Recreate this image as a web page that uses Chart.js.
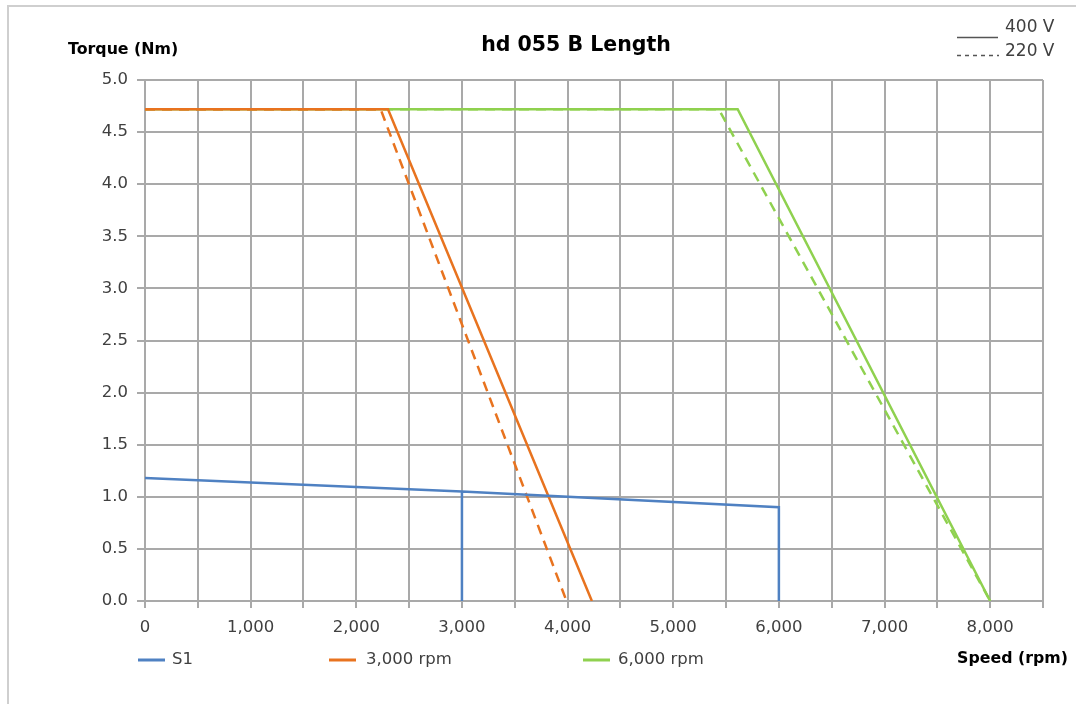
<!DOCTYPE html>
<html>
<head>
<meta charset="utf-8">
<script src="https://cdn.jsdelivr.net/npm/chart.js@4/dist/chart.umd.min.js"></script>
<style>
  html, body { margin: 0; padding: 0; background: #fff; }
  #wrap { width: 1076px; height: 704px; }
</style>
</head>
<body>
<div id="wrap"><canvas id="torqueChart" width="1076" height="704"></canvas></div>
<script>
// speed (rpm) / torque (Nm)
const s1Speed = [0, 3000, 6000, 6000, null, 3000, 3000];
const s1Torque = [1.18, 1.05, 0.90, 0, null, 1.05, 0];

const rpm3000Speed400 = [0, 2300, 4230];
const rpm3000Torque400 = [4.72, 4.72, 0];
const rpm3000Speed220 = [0, 2230, 3990];
const rpm3000Torque220 = [4.72, 4.72, 0];

const rpm6000Speed400 = [0, 5610, 8000];
const rpm6000Torque400 = [4.72, 4.72, 0];
const rpm6000Speed220 = [0, 5430, 8000];
const rpm6000Torque220 = [4.72, 4.72, 0];

const legendLabels = ['S1', '3,000 rpm', '6,000 rpm'];
const voltLabels = ['400 V', '220 V'];

const blue = '#4f81c2';
const orange = '#e8731f';
const green = '#8fd14f';
const gridColor = '#a9a9a9';
const textColor = '#404040';
const font = '"DejaVu Sans", Verdana, sans-serif';

function toPoints(xs, ys) {
    return xs.map((x, i) => (x === null ? { x: NaN, y: NaN } : { x: x, y: ys[i] }));
}

function lineSet(label, xs, ys, color, dashed) {
    return {
        label: label,
        data: toPoints(xs, ys),
        showLine: true,
        borderColor: color,
        backgroundColor: color,
        borderWidth: 2.5,
        borderDash: dashed ? [10, 7] : [],
        pointRadius: 0,
        fill: false,
        spanGaps: false,
    };
}

const decorations = {
    id: 'decorations',
    beforeDraw(chart) {
        const c = chart.ctx;
        c.save();
        c.fillStyle = '#fff';
        c.fillRect(0, 0, chart.width, chart.height);
        // outer frame
        c.strokeStyle = '#cfcfcf';
        c.lineWidth = 2;
        c.beginPath();
        c.moveTo(8, 704);
        c.lineTo(8, 6);
        c.lineTo(1076, 6);
        c.stroke();
        c.restore();
    },
    afterDraw(chart) {
        const c = chart.ctx;
        c.save();
        c.fillStyle = '#000';
        c.textBaseline = 'middle';
        c.textAlign = 'center';
        c.font = 'bold 20.5px ' + font;
        c.fillText('hd 055 B Length', 576, 46);

        c.font = 'bold 15.8px ' + font;
        c.textAlign = 'left';
        c.fillText('Torque (Nm)', 68, 50);
        c.textAlign = 'right';
        c.fillText('Speed (rpm)', 1068, 659);

        // voltage key, top right
        c.fillStyle = textColor;
        c.font = '17px ' + font;
        c.textAlign = 'left';
        c.fillText(voltLabels[0], 1005, 28);
        c.fillText(voltLabels[1], 1005, 52);
        c.strokeStyle = '#555';
        c.lineWidth = 1.3;
        c.beginPath();
        c.moveTo(957, 37.5);
        c.lineTo(998, 37.5);
        c.stroke();
        c.setLineDash([4, 4]);
        c.beginPath();
        c.moveTo(957, 55.5);
        c.lineTo(999, 55.5);
        c.stroke();
        c.setLineDash([]);

        // series key, bottom
        c.font = '16.5px ' + font;
        const keys = [
            { x: 138, tx: 172, color: blue },
            { x: 329, tx: 366, color: orange },
            { x: 583, tx: 618, color: green },
        ];
        keys.forEach((k, i) => {
            c.strokeStyle = k.color;
            c.lineWidth = 3;
            c.beginPath();
            c.moveTo(k.x, 660);
            c.lineTo(k.x + 27, 660);
            c.stroke();
            c.fillStyle = textColor;
            c.fillText(legendLabels[i], k.tx, 660);
        });
        c.restore();
    }
};

new Chart(document.getElementById('torqueChart').getContext('2d'), {
    type: 'scatter',
    data: {
        datasets: [
            lineSet('S1', s1Speed, s1Torque, blue, false),
            lineSet('3,000 rpm', rpm3000Speed400, rpm3000Torque400, orange, false),
            lineSet('3,000 rpm 220 V', rpm3000Speed220, rpm3000Torque220, orange, true),
            lineSet('6,000 rpm', rpm6000Speed400, rpm6000Torque400, green, false),
            lineSet('6,000 rpm 220 V', rpm6000Speed220, rpm6000Torque220, green, true),
        ]
    },
    options: {
        responsive: false,
        animation: false,
        layout: { padding: { top: 80, right: 33, left: 0, bottom: 0 } },
        plugins: {
            legend: { display: false },
            title: { display: false },
            tooltip: { enabled: false },
        },
        scales: {
            x: {
                type: 'linear',
                min: 0,
                max: 8500,
                afterFit(scale) { scale.height = 103; },
                grid: { color: gridColor, lineWidth: 2, tickLength: 7, drawTicks: true },
                border: { color: gridColor, width: 2 },
                ticks: {
                    stepSize: 500,
                    autoSkip: false,
                    maxRotation: 0,
                    padding: 10,
                    color: textColor,
                    font: { family: font, size: 16.5 },
                    callback: (v) => (v % 1000 === 0 && v <= 8000 ? v.toLocaleString('en-US') : ''),
                },
            },
            y: {
                type: 'linear',
                min: 0,
                max: 5,
                afterFit(scale) { scale.width = 145; },
                grid: { color: gridColor, lineWidth: 2, tickLength: 8 },
                border: { color: gridColor, width: 2 },
                ticks: {
                    stepSize: 0.5,
                    padding: 9,
                    color: textColor,
                    font: { family: font, size: 16.5 },
                    callback: (v) => v.toFixed(1),
                },
            },
        },
    },
    plugins: [decorations],
});
</script>
</body>
</html>
